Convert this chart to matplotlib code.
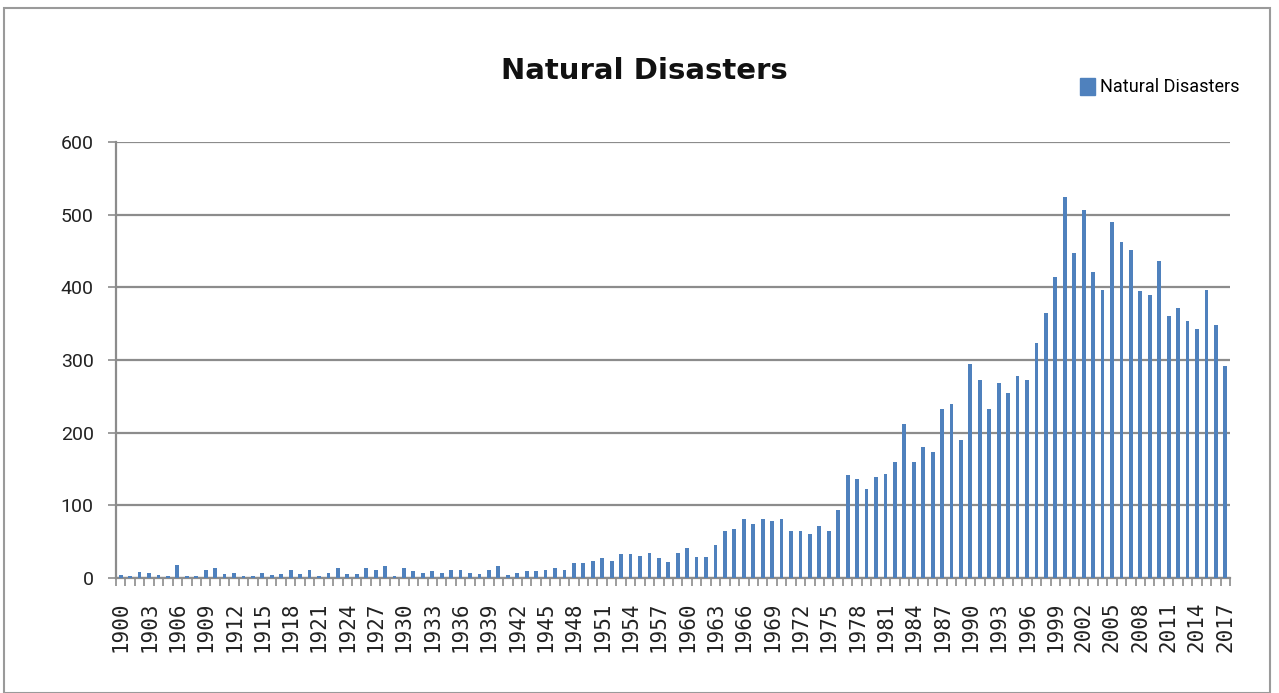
import matplotlib
matplotlib.use("Agg")
import matplotlib.pyplot as plt
import numpy as np
from matplotlib.patches import Rectangle, Patch

years = list(range(1900, 2018))
disasters = [
    4, 3, 8, 7, 4, 3, 18, 3, 3, 11,      # 1900-1909
    14, 6, 7, 3, 3, 7, 4, 5, 11, 6,      # 1910-1919
    11, 3, 7, 14, 5, 5, 14, 11, 17, 3,   # 1920-1929
    14, 10, 7, 10, 7, 11, 11, 7, 6, 11,  # 1930-1939
    17, 4, 7, 10, 10, 11, 14, 11, 20, 21,  # 1940-1949
    24, 27, 24, 33, 33, 30, 35, 28, 22, 35,  # 1950-1959
    41, 29, 29, 45, 65, 68, 81, 75, 81, 78,  # 1960-1969
    81, 64, 64, 61, 71, 64, 94, 142, 136, 123,  # 1970-1979
    139, 143, 160, 212, 160, 180, 173, 232, 239, 190,  # 1980-1989
    295, 272, 232, 268, 255, 278, 272, 324, 364, 414,  # 1990-1999
    525, 447, 506, 421, 397, 490, 463, 451, 395, 390,  # 2000-2009
    436, 361, 371, 354, 342, 397, 348, 292,  # 2010-2017
]
yticks = [0, 100, 200, 300, 400, 500, 600]

BLUE = "#4F81BD"
GRID = "#8C8C8C"
TXT = "#222222"

fig = plt.figure(figsize=(12.79, 6.93), dpi=100)
ax = fig.add_axes([116 / 1279, 1 - 578 / 693, (1230 - 116) / 1279, (578 - 142) / 693])

x = np.arange(len(years))
ax.bar(x, disasters, width=0.4, color=BLUE, zorder=3, label="Natural Disasters")

ax.set_xlim(-0.5, len(years) - 0.5)
ax.set_ylim(0, 600)
ax.set_yticks(yticks)
ax.set_yticklabels([str(v) for v in yticks], family="Roboto", fontsize=14, color=TXT)
ax.yaxis.grid(True, color=GRID, lw=1.6, zorder=0)
ax.set_axisbelow(True)

ax.set_xticks(x[::3])
ax.set_xticklabels([str(y) for y in years[::3]], rotation=90,
                   family="DejaVu Sans Mono", fontsize=15, color=TXT)
ax.set_xticks(np.arange(len(years) + 1) - 0.5, minor=True)
ax.tick_params(axis="x", which="major", length=0, pad=17)
ax.tick_params(axis="x", which="minor", length=6, color=GRID, width=1.2)
ax.tick_params(axis="y", length=6, color=GRID, width=1.2, pad=10)

for side in ["top", "right"]:
    ax.spines[side].set_visible(False)
for side in ["left", "bottom"]:
    ax.spines[side].set_color(GRID)
    ax.spines[side].set_linewidth(1.6)

fig.text(644 / 1279, 1 - 71 / 693, "Natural Disasters", ha="center", va="center",
         fontsize=21, fontweight="bold", color="#111111")

fig.legend(handles=[Patch(color=BLUE, label="Natural Disasters")],
           loc="center", bbox_to_anchor=(1160 / 1279, 1 - 87 / 693), frameon=False,
           handlelength=0.8, handleheight=1.1, handletextpad=0.3,
           prop={"family": "Roboto", "size": 13})

# chart frame
fig.add_artist(Rectangle((4 / 1279, 0.0), 1266 / 1279, 1 - 8 / 693,
                         transform=fig.transFigure, fill=False, edgecolor="#9A9A9A", lw=1.5))

fig.savefig("out.png", dpi=100, facecolor="white")
